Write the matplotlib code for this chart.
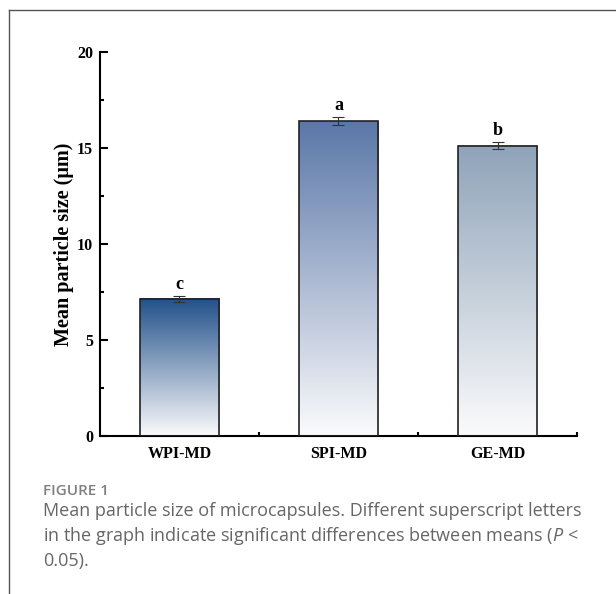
import numpy as np
import matplotlib
matplotlib.use("Agg")
import matplotlib.pyplot as plt
from matplotlib.colors import LinearSegmentedColormap
from matplotlib.lines import Line2D

samples = ["WPI-MD", "SPI-MD", "GE-MD"]
size_mean = [7.14, 16.4, 15.12]
size_err = [0.14, 0.22, 0.18]
letters = ["c", "a", "b"]
top_colors = ["#22508a", "#5b77a8", "#8fa3b9"]

plt.rcParams["font.family"] = ["Liberation Serif", "DejaVu Serif"]
plt.rcParams["mathtext.fontset"] = "custom"
plt.rcParams["mathtext.it"] = "Open Sans:italic"
plt.rcParams["mathtext.rm"] = "Open Sans"

fig = plt.figure(figsize=(6.16, 5.94), dpi=100)
ax = fig.add_axes([0.1623, 0.266, 0.7744, 0.6465])

x = np.arange(len(samples))
bars = ax.bar(x, size_mean, width=0.5, facecolor="none", edgecolor="#222222",
              linewidth=1.2, zorder=3)
grad = np.linspace(0, 1, 256).reshape(-1, 1)
for b, c in zip(bars, top_colors):
    cmap = LinearSegmentedColormap.from_list("g", ["#fbfbfc", c])
    ax.imshow(grad, extent=[b.get_x(), b.get_x() + b.get_width(), 0, b.get_height()],
              origin="lower", aspect="auto", cmap=cmap, zorder=2)

ax.errorbar(x, size_mean, yerr=size_err, fmt="none", ecolor="#333333",
            elinewidth=0.8, capsize=4.5, capthick=0.8, zorder=4)
for xi, m, e, t in zip(x, size_mean, size_err, letters):
    ax.text(xi, m + e + 0.15, t, ha="center", va="bottom", fontsize=13, fontweight="bold")

ax.set_xlim(-0.5, 2.5)
ax.set_ylim(0, 20)
ax.set_yticks([0, 5, 10, 15, 20])
ax.set_yticks([2.5, 7.5, 12.5, 17.5], minor=True)
ax.set_xticks(x)
ax.set_xticks([0.5, 1.5, 2.5], minor=True)
ax.set_xticklabels(samples)
ax.spines["top"].set_visible(False)
ax.spines["right"].set_visible(False)
for s in ["left", "bottom"]:
    ax.spines[s].set_linewidth(1.5)
ax.tick_params(which="major", direction="in", length=6, width=1.5, labelsize=11.5)
ax.tick_params(which="minor", direction="in", length=3, width=1.5)
ax.tick_params(axis="x", pad=7)
ax.tick_params(axis="y", pad=5)
for lab in ax.get_xticklabels() + ax.get_yticklabels():
    lab.set_fontweight("bold")
ax.set_ylabel("Mean particle size (\u03bcm)", fontsize=14.5, fontweight="bold", labelpad=2)

# frame and caption
fig.add_artist(Line2D([9 / 616, 1], [1 - 10 / 594, 1 - 10 / 594], color="#555555", lw=1))
fig.add_artist(Line2D([9 / 616, 9 / 616], [0, 1 - 10 / 594], color="#555555", lw=1))
fig.text(43 / 616, 1 - 491 / 594, "FIGURE 1", fontsize=11, color="#808080",
         family="Open Sans", fontweight="semibold", va="center")
caption = ("Mean particle size of microcapsules. Different superscript letters\n"
           "in the graph indicate significant differences between means ($\\mathit{P}$ <\n"
           "0.05).")
fig.text(43 / 616, 1 - 502 / 594, caption, fontsize=13, color="#666666",
         family="Open Sans", va="top", linespacing=1.34)

fig.savefig("out.png", dpi=100)
